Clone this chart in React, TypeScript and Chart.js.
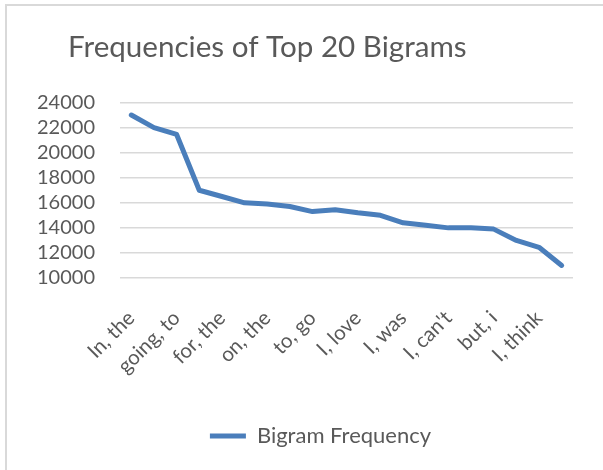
import React, { useEffect, useRef } from "react";
import { Chart, registerables } from "chart.js";

Chart.register(...registerables);

// Only every other category label is printed in the reference; the odd ones are guesses.
const categories = [
  "In, the", "of, the", "going, to", "to, be", "for, the",
  "in, a", "on, the", "at, the", "to, go", "it, is",
  "I, love", "I, have", "I, was", "I, am", "I, can't",
  "I, don't", "but, i", "and, i", "I, think", "I, want",
];
const frequencies = [
  23000, 22000, 21450, 17000, 16500,
  16000, 15900, 15700, 15300, 15450,
  15200, 15000, 14400, 14200, 14000,
  14000, 13900, 13000, 12450, 11000,
];
const yMin = 10000;
const yMax = 24000;
const yStep = 2000;
const seriesName = "Bigram Frequency";
const chartTitle = "Frequencies of Top 20 Bigrams";

const TEXT = "#595959";
const GRID = "#d9d9d9";
const LINE = "#4a7ebb";
const FONT = "Lato";

export default function App() {
  const ref = useRef<HTMLCanvasElement | null>(null);

  useEffect(() => {
    if (!ref.current) return;
    const chart = new Chart(ref.current, {
      type: "line",
      data: {
        labels: categories,
        datasets: [
          {
            label: seriesName,
            data: frequencies,
            borderColor: LINE,
            backgroundColor: LINE,
            borderWidth: 5,
            pointRadius: 0,
            tension: 0,
            borderJoinStyle: "round",
            borderCapStyle: "round",
          },
        ],
      },
      options: {
        animation: false,
        responsive: false,
        layout: { padding: { left: 68, right: 30, top: 0, bottom: 13 } },
        plugins: {
          title: {
            display: true,
            align: "start",
            text: chartTitle,
            color: TEXT,
            font: { family: FONT, size: 29.6, weight: "normal" },
            padding: { top: 30, bottom: 37 },
          },
          legend: {
            position: "bottom",
            labels: {
              usePointStyle: true,
              pointStyle: "line",
              pointStyleWidth: 36,
              color: TEXT,
              font: { family: FONT, size: 22 },
            },
          },
          tooltip: { enabled: false },
        },
        scales: {
          x: {
            offset: true,
            grid: { display: false },
            border: { display: false },
            afterFit: (s: any) => {
              s.height = 137;
            },
            ticks: {
              autoSkip: false,
              minRotation: 45,
              maxRotation: 45,
              padding: 20,
              color: TEXT,
              font: { family: FONT, size: 20.5 },
              callback: (_v: any, i: number) => (i % 2 === 0 ? categories[i] : null),
            },
          },
          y: {
            min: yMin,
            max: yMax,
            grid: { color: GRID, lineWidth: 1.5, drawTicks: false },
            border: { display: false },
            afterFit: (s: any) => {
              s.width = 52;
            },
            ticks: {
              stepSize: yStep,
              autoSkip: false,
              mirror: true,
              padding: -83,
              color: TEXT,
              font: { family: FONT, size: 20 },
              callback: (v: any) => String(v),
            },
          },
        },
      },
    });
    return () => chart.destroy();
  }, []);

  return (
    <div style={{ position: "absolute", left: 0, top: 0, width: 603, height: 470, background: "#fff" }}>
      <div
        style={{
          position: "absolute",
          left: 5,
          top: 4,
          width: 598,
          height: 466,
          borderTop: `2px solid ${GRID}`,
          borderLeft: `2px solid ${GRID}`,
          boxSizing: "border-box",
        }}
      />
      <canvas ref={ref} width={603} height={470} style={{ position: "absolute", left: 0, top: 0 }} />
    </div>
  );
}
